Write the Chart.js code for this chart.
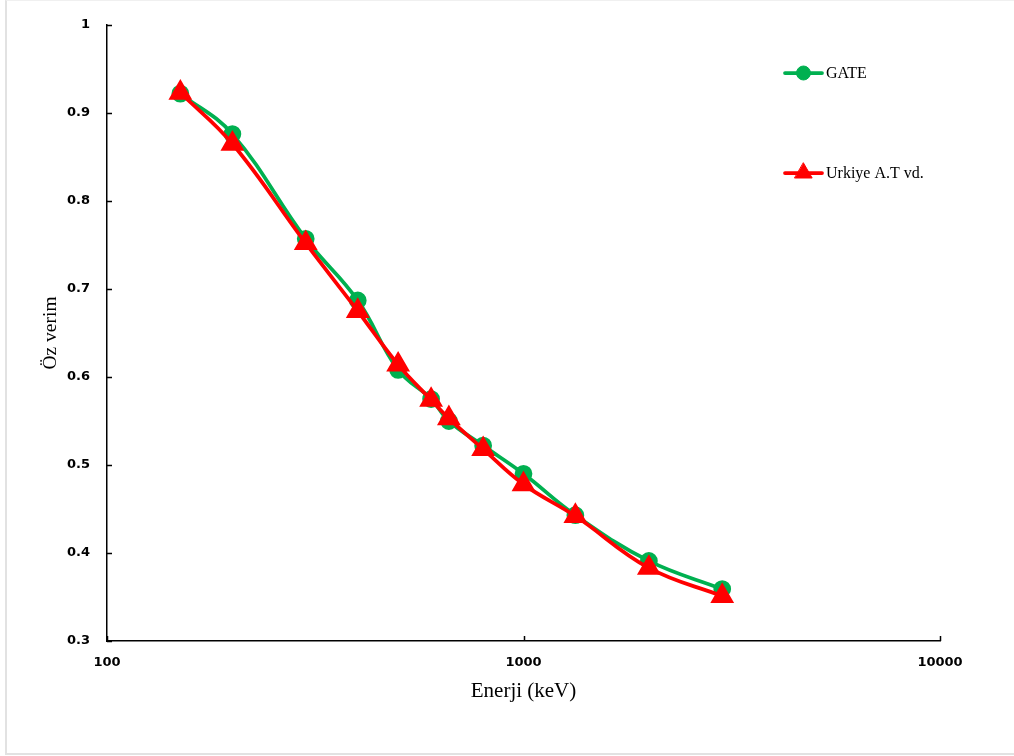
<!DOCTYPE html>
<html>
<head>
<meta charset="utf-8">
<script src="https://cdn.jsdelivr.net/npm/chart.js@4/dist/chart.umd.min.js"></script>
<style>
  html, body { margin: 0; padding: 0; background: #fff; }
  #wrap { position: relative; width: 1014px; height: 756px; }
  #frame {
    position: absolute; left: 5px; top: 0; width: 1020px; height: 752px;
    border-left: 2px solid #e2e2e2; border-bottom: 2px solid #e2e2e2; border-top: 1px solid #f0f0f0;
    pointer-events: none;
  }
</style>
</head>
<body>
<div id="wrap">
  <canvas id="chart" width="1014" height="756"></canvas>
  <div id="frame"></div>
</div>
<script>
// Energies (keV) and efficiency values for the two series
const energies = [150, 200, 300, 400, 500, 600, 662, 800, 1000, 1332, 2000, 3000];
const gateValues = [0.922, 0.876, 0.757, 0.687, 0.608, 0.575, 0.550, 0.522, 0.490, 0.443, 0.391, 0.359];
const urkiyeValues = [0.923, 0.865, 0.752, 0.675, 0.614, 0.574, 0.553, 0.518, 0.478, 0.442, 0.383, 0.351];
const seriesLabels = ['GATE', 'Urkiye A.T vd.'];
const xTickValues = [100, 1000, 10000];
const yTickValues = [0.3, 0.4, 0.5, 0.6, 0.7, 0.8, 0.9, 1];

const toPoints = (vals) => energies.map((e, i) => ({ x: e, y: vals[i] }));

// Short tick marks drawn on the inner side of both axes
const innerTicks = {
  id: 'innerTicks',
  beforeDatasetsDraw(chart) {
    const { ctx, chartArea, scales } = chart;
    ctx.save();
    ctx.strokeStyle = '#000';
    ctx.lineWidth = 1.5;
    ctx.beginPath();
    scales.y.ticks.forEach(t => {
      const py = Math.round(scales.y.getPixelForValue(t.value)) + 0.5;
      ctx.moveTo(chartArea.left, py);
      ctx.lineTo(chartArea.left + 5, py);
    });
    scales.x.ticks.forEach(t => {
      const px = Math.round(scales.x.getPixelForValue(t.value)) + 0.5;
      ctx.moveTo(px, chartArea.bottom);
      ctx.lineTo(px, chartArea.bottom - 5);
    });
    ctx.stroke();
    ctx.restore();
  }
};

// Legend: line sample with marker, followed by the series name
const sideLegend = {
  id: 'sideLegend',
  afterDatasetsDraw(chart) {
    const { ctx } = chart;
    const x0 = 785, x1 = 822, rows = [73, 173];
    ctx.save();
    chart.data.datasets.forEach((ds, i) => {
      const y = rows[i];
      ctx.strokeStyle = ds.borderColor;
      ctx.lineWidth = ds.borderWidth;
      ctx.lineCap = 'round';
      ctx.beginPath();
      ctx.moveTo(x0, y);
      ctx.lineTo(x1, y);
      ctx.stroke();
      ctx.fillStyle = ds.pointBackgroundColor;
      ctx.strokeStyle = ds.pointBorderColor;
      ctx.lineWidth = 1;
      Chart.helpers.drawPoint(ctx, {
        pointStyle: ds.pointStyle,
        rotation: 0,
        borderWidth: 1,
        radius: ds.pointRadius
      }, (x0 + x1) / 2, y);
      ctx.fillStyle = '#000';
      ctx.font = '16px "Liberation Serif", "Times New Roman", serif';
      ctx.textBaseline = 'middle';
      ctx.textAlign = 'left';
      ctx.fillText(ds.label, x1 + 4, y + 1);
    });
    ctx.restore();
  }
};

new Chart(document.getElementById('chart'), {
  type: 'line',
  data: {
    datasets: [
      {
        label: seriesLabels[0],
        data: toPoints(gateValues),
        borderColor: '#00B050',
        backgroundColor: '#00B050',
        pointBackgroundColor: '#00B050',
        pointBorderColor: '#00B050',
        pointStyle: 'circle',
        pointRadius: 7,
        borderWidth: 3.75,
        tension: 0.4,
        order: 1
      },
      {
        label: seriesLabels[1],
        data: toPoints(urkiyeValues),
        borderColor: '#FF0000',
        backgroundColor: '#FF0000',
        pointBackgroundColor: '#FF0000',
        pointBorderColor: '#FF0000',
        pointStyle: 'triangle',
        pointRadius: 10,
        borderWidth: 3.75,
        tension: 0.4,
        order: 0
      }
    ]
  },
  options: {
    responsive: false,
    animation: false,
    devicePixelRatio: 1,
    layout: { padding: { top: 25, right: 74, left: 0, bottom: 0 } },
    plugins: {
      legend: { display: false },
      tooltip: { enabled: false }
    },
    scales: {
      x: {
        type: 'logarithmic',
        min: 100,
        max: 10000,
        afterBuildTicks: (scale) => { scale.ticks = xTickValues.map(v => ({ value: v })); },
        afterFit: (scale) => { scale.height = 115; },
        grid: { display: true, drawOnChartArea: false, drawTicks: false },
        border: { display: true, color: '#000', width: 1.5 },
        ticks: {
          padding: 14,
          color: '#000',
          autoSkip: false,
          maxRotation: 0,
          font: { family: '"DejaVu Sans", sans-serif', size: 13, weight: 'bold' },
          callback: (v) => String(v)
        },
        title: {
          display: true,
          text: 'Enerji (keV)',
          color: '#000',
          font: { family: '"Liberation Serif", "Times New Roman", serif', size: 21 },
          padding: { top: 0, bottom: 52 }
        }
      },
      y: {
        type: 'linear',
        min: 0.3,
        max: 1,
        afterBuildTicks: (scale) => { scale.ticks = yTickValues.map(v => ({ value: v })); },
        afterFit: (scale) => { scale.width = 107; },
        grid: { display: true, drawOnChartArea: false, drawTicks: false },
        border: { display: true, color: '#000', width: 1.5 },
        ticks: {
          padding: 17,
          color: '#000',
          font: { family: '"DejaVu Sans", sans-serif', size: 13, weight: 'bold' },
          callback: (v) => String(Number(v.toFixed(1)))
        },
        title: {
          display: true,
          text: 'Öz verim',
          color: '#000',
          font: { family: '"Liberation Serif", "Times New Roman", serif', size: 19.5 },
          padding: { top: 39, bottom: 0 }
        }
      }
    }
  },
  plugins: [innerTicks, sideLegend]
});
</script>
</body>
</html>
